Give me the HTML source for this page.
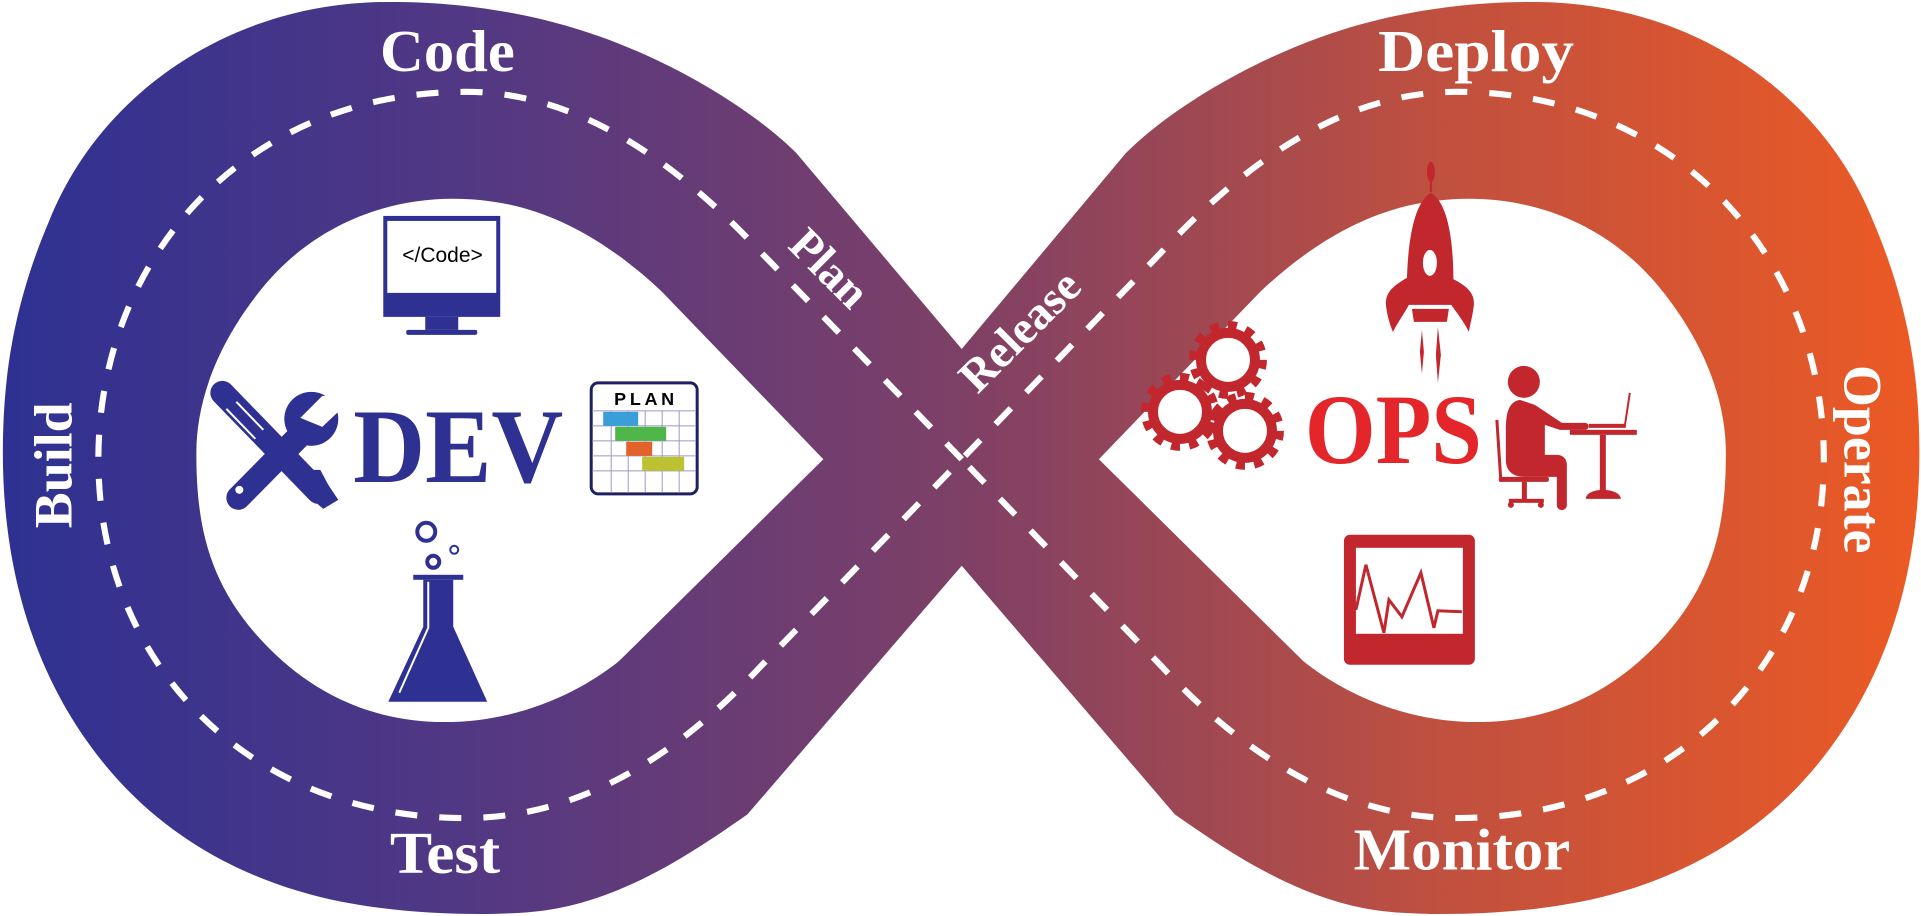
<!DOCTYPE html>
<html><head><meta charset="utf-8"><style>
html,body{margin:0;padding:0;background:#fff;}
svg{display:block;}
</style></head><body>
<svg width="1921" height="916" viewBox="0 0 1568 748" xmlns="http://www.w3.org/2000/svg">
<defs>
<linearGradient id="g" x1="0" y1="0" x2="1568" y2="0" gradientUnits="userSpaceOnUse">
<stop offset="0" stop-color="#2e3192"/>
<stop offset="0.25" stop-color="#533883"/>
<stop offset="0.5" stop-color="#7e4066"/>
<stop offset="0.75" stop-color="#c0503f"/>
<stop offset="1" stop-color="#ec5a24"/>
</linearGradient>
</defs>
<path fill="url(#g)" d="M785,285 L650,125 C620,95 560,55 490,30 C420,5 350,0 300,2 C180,8 80,80 40,180 C10,250 2,310 2,370 C2,470 30,560 90,630 C150,700 230,730 300,740 C340,746 390,748 430,745 C500,740 560,700 610,665 L785,462 L959,665 C1009,700 1069,740 1139,745 C1179,748 1229,746 1269,740 C1339,730 1419,700 1479,630 C1539,560 1567,470 1567,370 C1567,310 1559,250 1529,180 C1489,80 1389,8 1269,2 C1219,0 1149,5 1079,30 C1009,55 949,95 919,125 Z"/>
<path fill="#fff" d="M672,375 L540,238 C510,210 470,180 420,168 C340,150 260,175 210,240 C175,285 160,330 160,370 C160,430 170,480 220,530 C270,580 330,595 390,588 C440,582 480,560 505,540 Z"/>
<path fill="#fff" d="M897,375 L1029,238 C1059,210 1099,180 1149,168 C1229,150 1309,175 1359,240 C1394,285 1409,330 1409,370 C1409,430 1399,480 1349,530 C1299,580 1239,595 1179,588 C1129,582 1089,560 1064,540 Z"/>
<path fill="none" stroke="#fff" stroke-width="5" stroke-dasharray="18 18" d="M785,375 L620,205 C550,130 470,75 380,75 C200,75 80,210 80,375 C80,540 200,668 380,668 C470,668 550,620 620,545 L785,375 L949,205 C1019,130 1099,75 1189,75 C1369,75 1489,210 1489,375 C1489,540 1369,668 1189,668 C1099,668 1019,620 949,545 Z"/>
<g fill="#fff" font-family="'Liberation Serif',serif" font-weight="bold" font-size="48">
<text x="310" y="58" textLength="110" lengthAdjust="spacingAndGlyphs">Code</text>
<text x="1125" y="58" textLength="160" lengthAdjust="spacingAndGlyphs">Deploy</text>
<text x="318" y="713" textLength="90" lengthAdjust="spacingAndGlyphs">Test</text>
<text x="1105" y="710" textLength="177" lengthAdjust="spacingAndGlyphs">Monitor</text>
<text transform="translate(58,380) rotate(-90)" text-anchor="middle" font-size="44">Build</text>
<text transform="translate(1506,375) rotate(90)" text-anchor="middle" font-size="44">Operate</text>
<text transform="translate(678,218) rotate(45)" text-anchor="middle" y="14" font-size="38">Plan</text>
<text transform="translate(832,270) rotate(-45)" text-anchor="middle" y="13" font-size="38">Release</text>
</g>
<g transform="scale(0.8163)">
<rect x="383" y="216" width="117" height="101" fill="#2e3192"/>
<rect x="387" y="221" width="109" height="72" fill="#fff"/>
<rect x="425" y="317" width="33" height="13" fill="#2e3192"/>
<rect x="406" y="330" width="71" height="5" rx="2" fill="#2e3192"/>
<text x="402" y="262" font-family="'Liberation Sans',sans-serif" font-size="21" fill="#000">&lt;/Code&gt;</text>
<text x="353" y="482" font-family="'Liberation Serif',serif" font-weight="bold" font-size="106" fill="#2e3192" textLength="210" lengthAdjust="spacingAndGlyphs">DEV</text>
<line x1="222" y1="393" x2="318" y2="492" stroke="#2e3192" stroke-width="24" stroke-linecap="round"/>
<polygon points="300,470 320,470 328,485 338,500 323,509 310,498" fill="#2e3192"/>
<line x1="236" y1="402" x2="263" y2="430" stroke="#fff" stroke-width="2"/>
<line x1="226" y1="409" x2="255" y2="439" stroke="#fff" stroke-width="2"/>
<line x1="315" y1="420" x2="238" y2="498" stroke="#2e3192" stroke-width="24" stroke-linecap="round"/>
<circle cx="311" cy="419" r="27" fill="#2e3192"/>
<polygon points="300,418 322,396 340,396 340,410 322,427" fill="#fff"/>
<circle cx="239" cy="490" r="4" fill="#fff"/>
<rect x="591" y="383" width="106" height="111" rx="7" fill="#fff" stroke="#1f2060" stroke-width="3"/>
<g stroke="#9c98c8" stroke-width="1">
<line x1="592" y1="411" x2="696" y2="411"/><line x1="592" y1="426" x2="696" y2="426"/><line x1="592" y1="441" x2="696" y2="441"/><line x1="592" y1="456" x2="696" y2="456"/><line x1="592" y1="471" x2="696" y2="471"/>
<line x1="611" y1="411" x2="611" y2="493"/><line x1="628" y1="411" x2="628" y2="493"/><line x1="645" y1="411" x2="645" y2="493"/><line x1="662" y1="411" x2="662" y2="493"/><line x1="679" y1="411" x2="679" y2="493"/>
</g>
<rect x="603" y="412" width="35" height="14" fill="#3a9fd8"/>
<rect x="615" y="427" width="51" height="14" fill="#4fb748"/>
<rect x="626" y="442" width="26" height="14" fill="#e3622a"/>
<rect x="642" y="457" width="42" height="14" fill="#bcc230"/>
<text x="614" y="405" font-family="'Liberation Sans',sans-serif" font-weight="bold" font-size="18" fill="#000" textLength="60" lengthAdjust="spacing">PLAN</text>
<circle cx="426" cy="532" r="9" fill="none" stroke="#2e3192" stroke-width="4"/>
<circle cx="433" cy="562" r="6" fill="none" stroke="#2e3192" stroke-width="4"/>
<circle cx="454" cy="550" r="4" fill="none" stroke="#2e3192" stroke-width="2"/>
<rect x="413" y="575" width="50" height="5" fill="#2e3192"/>
<polygon points="423,580 453,580 453,627 487,702 388,702 423,627" fill="#2e3192"/>
<polyline points="428,582 428,628 399,693" fill="none" stroke="#fff" stroke-width="2"/>
<ellipse cx="1431" cy="172" rx="4" ry="10" fill="#c1272d"/>
<rect x="1430" y="180" width="2" height="12" fill="#c1272d"/>
<path d="M1431,193 C1410,205 1406,260 1407,305 L1453,305 C1455,260 1452,205 1431,193 Z" fill="#c1272d"/>
<ellipse cx="1430" cy="263" rx="7" ry="13" fill="#fff"/>
<path d="M1407,278 C1395,285 1385,292 1386,305 C1387,315 1390,325 1393,332 C1398,322 1405,313 1410,303 Z" fill="#c1272d"/>
<path d="M1451,278 C1465,285 1475,292 1474,305 C1473,315 1470,325 1469,332 C1464,322 1457,313 1450,303 Z" fill="#c1272d"/>
<polygon points="1412,309 1449,309 1447,322 1414,322" fill="#c1272d"/>
<path d="M1422,330 L1424,352 L1422,374 L1420,352 Z" fill="#c1272d"/>
<path d="M1438,327 L1441,355 L1438,383 L1436,355 Z" fill="#c1272d"/>
<g fill="none" stroke="#c1272d">
<circle cx="1228" cy="360" r="27" stroke-width="10"/>
<circle cx="1228" cy="360" r="35" stroke-width="8" stroke-dasharray="9 9.3"/>
<circle cx="1180" cy="412" r="27" stroke-width="10"/>
<circle cx="1180" cy="412" r="35" stroke-width="8" stroke-dasharray="9 9.3"/>
<circle cx="1245" cy="431" r="27" stroke-width="10"/>
<circle cx="1245" cy="431" r="35" stroke-width="8" stroke-dasharray="9 9.3"/>
</g>
<text x="1305" y="463" font-family="'Liberation Serif',serif" font-weight="bold" font-size="100" fill="#e4262b" textLength="177" lengthAdjust="spacingAndGlyphs">OPS</text>
<circle cx="1524" cy="382" r="16" fill="#c1272d"/>
<path d="M1520,400 C1508,402 1506,415 1506,430 L1506,460 C1506,472 1514,477 1525,477 L1557,477 L1557,505 C1557,512 1567,512 1567,505 L1567,465 C1567,458 1562,455 1557,455 L1545,455 L1545,425 L1560,430 L1585,430 C1590,430 1590,423 1585,423 L1562,423 L1535,405 Z" fill="#c1272d"/>
<line x1="1497" y1="420" x2="1501" y2="482" stroke="#c1272d" stroke-width="3"/>
<rect x="1499" y="477" width="50" height="5" rx="2" fill="#c1272d"/>
<rect x="1522" y="482" width="5" height="18" fill="#c1272d"/>
<rect x="1509" y="499" width="35" height="4" fill="#c1272d"/>
<circle cx="1511" cy="505" r="3" fill="#c1272d"/><circle cx="1541" cy="505" r="3" fill="#c1272d"/>
<rect x="1570" y="430" width="67" height="5" fill="#c1272d"/>
<rect x="1600" y="435" width="6" height="58" fill="#c1272d"/>
<path d="M1586,499 C1586,487 1620,487 1621,499 Z" fill="#c1272d"/>
<rect x="1589" y="424" width="37" height="4" fill="#c1272d"/>
<line x1="1625" y1="426" x2="1630" y2="393" stroke="#c1272d" stroke-width="2"/>
<rect x="1344" y="535" width="131" height="130" rx="6" fill="#c1272d"/>
<rect x="1356" y="548" width="107" height="86" fill="#fff"/>
<polyline points="1356,610 1366,565 1384,633 1389,600 1402,617 1421,573 1434,628 1438,611 1462,612" fill="none" stroke="#c1272d" stroke-width="3"/>
</g>
</svg>
</body></html>
